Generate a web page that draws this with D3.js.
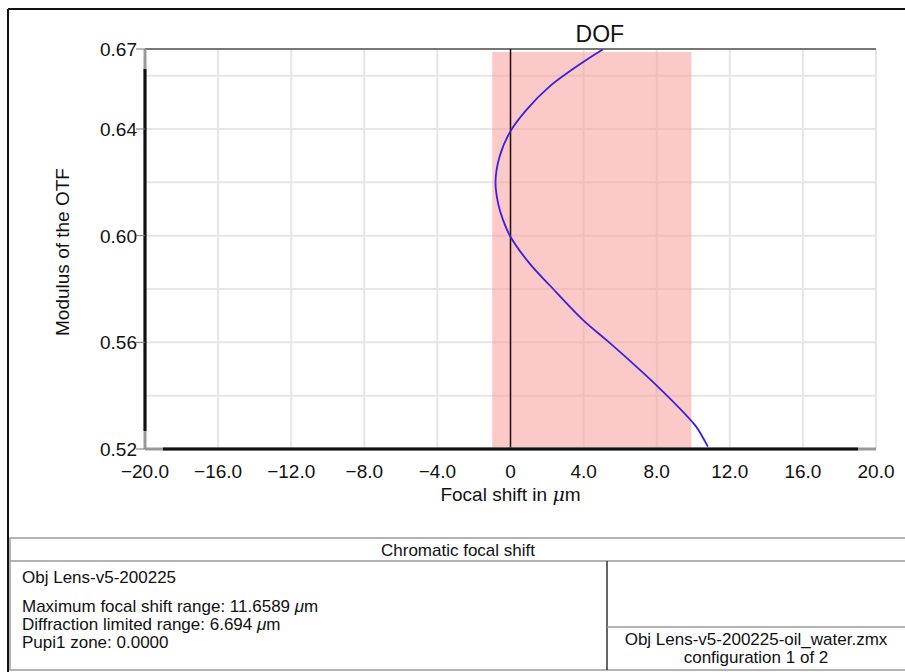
<!DOCTYPE html>
<html>
<head>
<meta charset="utf-8">
<script src="https://cdn.jsdelivr.net/npm/d3@7"></script>
<style>
    body { margin: 0; background: #fff; }
    svg { display: block; font-family: "Liberation Sans", Arial, sans-serif; }
    .tick-label { font-size: 19px; fill: #111; }
    .table-text { font-size: 17px; fill: #111; }
</style>
</head>
<body>
<svg id="chart" width="905" height="672"></svg>
<script>
// chromatic focal shift curve (focal shift in um, modulus)
const focalShift = [5.05, 4.0, 2.13, 0.86, 0.0, -0.6, -0.82, -0.69, -0.42, 0.0, 1.04, 2.13, 3.96, 5.24, 6.69, 8.06, 9.61, 10.16, 10.8];
const modulus = [0.6698, 0.6652, 0.6559, 0.6471, 0.6392, 0.6296, 0.6202, 0.6125, 0.6061, 0.5996, 0.5896, 0.5815, 0.5684, 0.5609, 0.5521, 0.5434, 0.5327, 0.5284, 0.5209];

const xTicks = [-20, -16, -12, -8, -4, 0, 4, 8, 12, 16, 20];
const yGrid = [0.52, 0.54, 0.56, 0.58, 0.60, 0.62, 0.64, 0.66];
const yLabels = [0.52, 0.56, 0.60, 0.64, 0.67];
const dofRange = [-1.0, 9.9];

const tableTitle = 'Chromatic focal shift';
const lensName = 'Obj Lens-v5-200225';
const infoLines = ['Maximum focal shift range: 11.6589 ', 'Diffraction limited range: 6.694 ', 'Pupi1 zone: 0.0000'];
const fileLines = ['Obj Lens-v5-200225-oil_water.zmx', 'configuration 1 of 2'];

const svg = d3.select('#chart');
const plot = { left: 145, right: 876, top: 49, bottom: 449 };

const xScale = d3.scaleLinear().domain([-20, 20]).range([plot.left, plot.right]);
const yScale = d3.scaleLinear().domain([0.52, 0.67]).range([plot.bottom, plot.top]);

// outer frame
svg.append('line').attr('x1', 8).attr('x2', 905).attr('y1', 9).attr('y2', 9)
    .attr('stroke', '#111').attr('stroke-width', 2);
svg.append('line').attr('x1', 8).attr('x2', 8).attr('y1', 9).attr('y2', 672)
    .attr('stroke', '#111').attr('stroke-width', 2);

// grid
const grid = svg.append('g');
grid.selectAll('.vgrid').data(xTicks.slice(1, -1)).join('line')
    .attr('x1', d => xScale(d)).attr('x2', d => xScale(d))
    .attr('y1', plot.top).attr('y2', plot.bottom)
    .attr('stroke', '#e6e6e6').attr('stroke-width', 2);
grid.selectAll('.hgrid').data(yGrid.slice(1)).join('line')
    .attr('x1', plot.left).attr('x2', plot.right)
    .attr('y1', d => yScale(d)).attr('y2', d => yScale(d))
    .attr('stroke', '#e6e6e6').attr('stroke-width', 2);
grid.append('line').attr('x1', plot.right).attr('x2', plot.right)
    .attr('y1', plot.top).attr('y2', plot.bottom)
    .attr('stroke', '#e6e6e6').attr('stroke-width', 2);

// DOF band
svg.append('rect')
    .attr('x', xScale(dofRange[0])).attr('y', plot.top + 3)
    .attr('width', xScale(dofRange[1]) - xScale(dofRange[0]))
    .attr('height', plot.bottom - plot.top - 3)
    .attr('fill', '#fa9d9d').attr('opacity', 0.55);

svg.append('text')
    .attr('x', xScale(dofRange[0]) + (xScale(dofRange[1]) - xScale(dofRange[0])) / 2 + 8)
    .attr('y', 42).attr('text-anchor', 'middle')
    .attr('font-size', 23).attr('fill', '#111')
    .text('DOF');

// top frame line
svg.append('line').attr('x1', plot.left).attr('x2', plot.right)
    .attr('y1', plot.top).attr('y2', plot.top)
    .attr('stroke', '#777').attr('stroke-width', 2);

// zero line
svg.append('line').attr('x1', xScale(0)).attr('x2', xScale(0))
    .attr('y1', plot.top).attr('y2', plot.bottom)
    .attr('stroke', '#2a0d0d').attr('stroke-width', 1.5);

// axes (black with grey ends)
svg.append('line').attr('x1', plot.left).attr('x2', plot.left)
    .attr('y1', plot.top).attr('y2', plot.bottom)
    .attr('stroke', '#999').attr('stroke-width', 3);
svg.append('line').attr('x1', plot.left).attr('x2', plot.left)
    .attr('y1', plot.top + 20).attr('y2', plot.bottom - 18)
    .attr('stroke', '#111').attr('stroke-width', 3);
svg.append('line').attr('x1', plot.left).attr('x2', plot.right)
    .attr('y1', plot.bottom).attr('y2', plot.bottom)
    .attr('stroke', '#999').attr('stroke-width', 3);
svg.append('line').attr('x1', plot.left + 18).attr('x2', plot.right - 18)
    .attr('y1', plot.bottom).attr('y2', plot.bottom)
    .attr('stroke', '#111').attr('stroke-width', 3);

// y ticks
const yAxis = svg.append('g');
yAxis.selectAll('line').data(yLabels).join('line')
    .attr('x1', plot.left - 9).attr('x2', plot.left)
    .attr('y1', d => yScale(d)).attr('y2', d => yScale(d))
    .attr('stroke', '#777').attr('stroke-width', 1);
yAxis.selectAll('text').data(yLabels).join('text')
    .attr('class', 'tick-label')
    .attr('x', plot.left - 8).attr('y', d => yScale(d) + 7)
    .attr('text-anchor', 'end')
    .text(d => d3.format('.2f')(d));

// x tick labels
const xfmt = d => d === 0 ? '0' : d3.format('.1f')(d);
svg.append('g').selectAll('text').data(xTicks).join('text')
    .attr('class', 'tick-label')
    .attr('x', d => xScale(d)).attr('y', 478)
    .attr('text-anchor', 'middle')
    .text(xfmt);

// axis titles
const xTitle = svg.append('text').attr('class', 'tick-label')
    .attr('x', xScale(0)).attr('y', 501).attr('text-anchor', 'middle');
xTitle.append('tspan').text('Focal shift in ');
xTitle.append('tspan').attr('font-style', 'italic').attr('font-family', 'DejaVu Serif, serif').text('μ');
xTitle.append('tspan').text('m');

svg.append('text').attr('class', 'tick-label')
    .attr('transform', 'translate(69,252) rotate(-90)')
    .attr('text-anchor', 'middle')
    .text('Modulus of the OTF');

// curve
const points = focalShift.map((d, i) => [d, modulus[i]]);
const line = d3.line()
    .x(d => xScale(d[0]))
    .y(d => yScale(d[1]))
    .curve(d3.curveCatmullRom);
svg.append('path').datum(points)
    .attr('d', line)
    .attr('fill', 'none')
    .attr('stroke', '#3a22dd')
    .attr('stroke-width', 1.8);

// info table
const table = { left: 10, right: 906, top: 538, head: 561, split: 607, mid: 627, bottom: 670 };
const tg = svg.append('g').attr('stroke', '#9a9a9a').attr('stroke-width', 1.5);
tg.append('rect').attr('x', table.left).attr('y', table.top)
    .attr('width', table.right - table.left).attr('height', table.bottom - table.top)
    .attr('fill', 'none');
tg.append('line').attr('x1', table.left).attr('x2', table.right).attr('y1', table.head).attr('y2', table.head);
tg.append('line').attr('x1', table.split).attr('x2', table.split).attr('y1', table.head).attr('y2', table.bottom)
    .attr('stroke', '#333');
tg.append('line').attr('x1', table.split).attr('x2', table.right).attr('y1', table.mid).attr('y2', table.mid);

svg.append('text').attr('class', 'table-text').attr('font-size', 17.5)
    .attr('x', 458).attr('y', 556).attr('text-anchor', 'middle').text(tableTitle);
svg.append('text').attr('class', 'table-text')
    .attr('x', 22).attr('y', 583).text(lensName);
infoLines.forEach((t, i) => {
    const tx = svg.append('text').attr('class', 'table-text').attr('font-size', 16)
        .attr('x', 22).attr('y', 612 + i * 18);
    tx.append('tspan').text(t);
    if (i < 2) {
        tx.append('tspan').attr('font-style', 'italic').text('μ');
        tx.append('tspan').text('m');
    }
});
fileLines.forEach((t, i) => {
    svg.append('text').attr('class', 'table-text').attr('font-size', 15.6)
        .attr('x', 756).attr('y', 645 + i * 17.5).attr('text-anchor', 'middle').text(t);
});
</script>
</body>
</html>
